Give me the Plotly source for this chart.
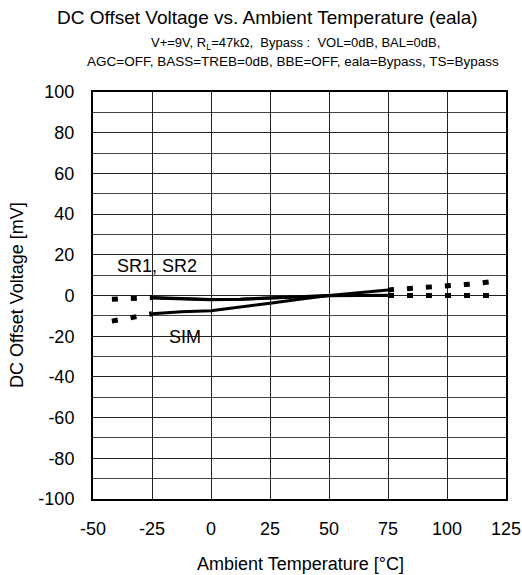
import plotly.graph_objects as go

# Measured (solid) range
temp_meas = [-25, -12.5, 0, 12.5, 25, 37.5, 50, 62.5, 75]
sr1_meas = [-1.0, -1.6, -2.0, -1.8, -1.2, -0.6, 0.0, 0.0, 0.0]
sr2_meas = [-1.2, -1.8, -2.1, -1.9, -1.3, -0.7, -0.1, 0.0, 0.1]
sim_meas = [-9.0, -8.0, -7.5, -5.8, -3.8, -1.8, 0.0, 1.4, 2.7]

# Extrapolated (dotted) ranges
temp_low = [-42, -25]
sr_low = [-1.9, -1.0]
sim_low = [-12.6, -9.0]
temp_high = [75, 85, 92, 101, 110, 120]
sr_high = [0.0, 0.0, 0.0, 0.5, 0.5, 0.0]
sim_high = [2.7, 3.5, 3.6, 4.3, 5.6, 7.0]

x_ticks = [-50, -25, 0, 25, 50, 75, 100, 125]
x_labels = ["-50", "-25", "0", "25", "50", "75", "100", "125"]
y_ticks = [-100, -80, -60, -40, -20, 0, 20, 40, 60, 80, 100]
y_labels = ["-100", "-80", "-60", "-40", "-20", "0", "20", "40", "60", "80", "100"]

FONT = "Liberation Sans, Arial, sans-serif"
W, H = 522, 575
ML, MR, MT, MB = 93, 16, 92, 76
fig = go.Figure()

solid = dict(color="black", width=3)
dotted = dict(color="black", width=5, dash="6px,13px")

for y in (sr1_meas, sr2_meas, sim_meas):
    fig.add_trace(go.Scatter(x=temp_meas, y=y, mode="lines", line=solid, showlegend=False))
for y in (sr_low, sim_low):
    fig.add_trace(go.Scatter(x=temp_low, y=y, mode="lines", line=dotted, showlegend=False))
for y in (sr_high, sim_high):
    fig.add_trace(go.Scatter(x=temp_high, y=y, mode="lines", line=dotted, showlegend=False))

# label boxes
fig.add_shape(type="rect", xref="x", yref="y", x0=-41.5, x1=6.4, y0=6.6, y1=23.8,
              fillcolor="white", line=dict(width=0), layer="below")
fig.add_shape(type="rect", xref="x", yref="y", x0=-20.3, x1=6.4, y0=-29.7, y1=-13.5,
              fillcolor="white", line=dict(width=0), layer="below")
fig.add_annotation(x=-40.5, y=14.5, xref="x", yref="y", text="SR1, SR2", showarrow=False,
                   xanchor="left", font=dict(size=18, color="black", family=FONT))
fig.add_annotation(x=-18.5, y=-20.3, xref="x", yref="y", text="SIM", showarrow=False,
                   xanchor="left", font=dict(size=18, color="black", family=FONT))


def px_x(p):
    return (p - ML) / (W - ML - MR)


def px_y(p):
    return (H - MB - p) / (H - MT - MB)


# titles (positions in pixels from top-left)
fig.add_annotation(x=px_x(267), y=px_y(17), xref="paper", yref="paper",
                   text="DC Offset Voltage vs. Ambient Temperature (eala)",
                   showarrow=False, xanchor="center", yanchor="middle",
                   font=dict(size=19, color="black", family=FONT))
fig.add_annotation(x=px_x(295), y=px_y(44), xref="paper", yref="paper",
                   text="V+=9V, R<sub>L</sub>=47kΩ,  Bypass :  VOL=0dB, BAL=0dB,",
                   showarrow=False, xanchor="center", yanchor="middle",
                   font=dict(size=13, color="black", family=FONT))
fig.add_annotation(x=px_x(293), y=px_y(61), xref="paper", yref="paper",
                   text="AGC=OFF, BASS=TREB=0dB, BBE=OFF, eala=Bypass, TS=Bypass",
                   showarrow=False, xanchor="center", yanchor="middle",
                   font=dict(size=13.5, color="black", family=FONT))
fig.add_annotation(x=px_x(300), y=px_y(564), xref="paper", yref="paper",
                   text="Ambient Temperature [°C]",
                   showarrow=False, xanchor="center", yanchor="middle",
                   font=dict(size=18, color="black", family=FONT))
fig.add_annotation(x=px_x(17), y=px_y(295), xref="paper", yref="paper",
                   text="DC Offset Voltage [mV]", textangle=-90,
                   showarrow=False, xanchor="center", yanchor="middle",
                   font=dict(size=18, color="black", family=FONT))

fig.update_layout(
    width=W, height=H,
    margin=dict(l=ML, r=MR, t=MT, b=MB, autoexpand=False),
    paper_bgcolor="white", plot_bgcolor="white",
    font=dict(family=FONT, color="black", size=18),
    xaxis=dict(range=[-50, 125], tickvals=x_ticks, ticktext=x_labels, showgrid=True,
               gridcolor="#222", gridwidth=1, automargin=False,
               showline=True, linecolor="black", linewidth=2, mirror=True, ticks="",
               ticklabelstandoff=12, zeroline=False),
    yaxis=dict(range=[-100, 100], tickvals=y_ticks, ticktext=y_labels, showgrid=True,
               gridcolor="#222", gridwidth=1, automargin=False,
               minor=dict(dtick=10, tick0=0, showgrid=True, gridcolor="#444", gridwidth=1),
               showline=True, linecolor="black", linewidth=2, mirror=True, ticks="",
               ticklabelstandoff=13, zeroline=False),
)

fig.write_html("out.html", config={"displayModeBar": False},
               post_script="document.body.style.margin='0';")
